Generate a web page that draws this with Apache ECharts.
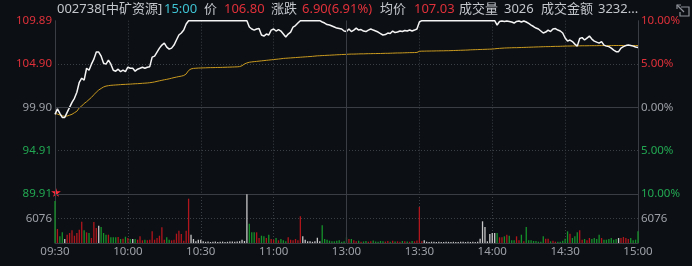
<!DOCTYPE html>
<html><head><meta charset="utf-8">
<script src="https://cdn.jsdelivr.net/npm/echarts@6/dist/echarts.min.js"></script>
<style>html,body{margin:0;padding:0;background:#0c0f14;}#c{width:692px;height:266px;}</style>
</head><body><div id="c"></div>
<script>
// ---------- data ----------
const stockName = '002738[中矿资源]';
const prevClose = 99.90;
const limitUp = 109.89;
const limitDown = 89.91;
const priceTickLabels = ['89.91', '94.91', '99.90', '104.90', '109.89'];
const pctTickLabels = ['10.00%', '5.00%', '0.00%', '5.00%', '10.00%'];
const timeLabels = ['09:30', '10:00', '10:30', '11:00', '13:00', '13:30', '14:00', '14:30', '15:00'];
const volTick = 6076;
const volText = '3026';
const amountText = '3232...';

const price = [
  99.09, 99.73, 99.21, 98.74, 98.74, 99.32, 99.90, 100.48, 100.94, 101.64,
  102.79, 103.26, 103.03, 104.41, 104.18, 104.88, 105.46, 106.27, 106.27, 105.80,
  104.99, 104.88, 105.34, 104.88, 104.18, 104.07, 104.30, 104.01, 104.18, 104.01,
  104.53, 104.41, 104.41, 104.07, 104.30, 104.41, 104.53, 104.41, 104.53, 104.59,
  105.69, 105.80, 106.27, 106.73, 107.08, 107.31, 106.85, 106.61, 106.73, 107.08,
  107.66, 108.24, 108.47, 108.81, 109.51, 109.89, 109.89, 109.89, 109.89, 109.89,
  109.89, 109.89, 109.89, 109.89, 109.89, 109.89, 109.89, 109.89, 109.89, 109.89,
  109.89, 109.89, 109.89, 109.89, 109.89, 109.89, 109.89, 109.89, 109.89, 109.89,
  109.16, 108.93, 108.81, 108.93, 108.99, 108.24, 108.12, 108.35, 108.24, 108.81,
  108.93, 108.70, 108.87, 108.70, 108.35, 108.00, 108.35, 108.58, 109.16, 109.33,
  109.62, 109.89, 109.89, 109.89, 109.89, 109.89, 109.89, 109.89, 109.89, 109.89,
  109.74, 109.62, 109.45, 109.39, 109.28, 109.16, 109.04, 108.99, 108.93, 108.70,
  108.64, 108.93, 108.64, 108.81, 109.04, 108.81, 108.87, 108.70, 108.64, 108.81,
  108.93, 108.81, 108.70, 108.58, 108.41, 108.24, 108.29, 108.47, 108.41, 108.70,
  108.52, 108.58, 108.70, 108.64, 108.76, 108.70, 108.81, 108.70, 108.81, 108.93,
  109.74, 109.89, 109.89, 109.89, 109.89, 109.89, 109.89, 109.89, 109.89, 109.89,
  109.89, 109.89, 109.89, 109.89, 109.89, 109.89, 109.89, 109.89, 109.89, 109.89,
  109.89, 109.89, 109.89, 109.89, 109.89, 109.89, 109.89, 109.89, 109.89, 109.89,
  109.89, 109.89, 109.39, 109.80, 109.86, 109.80, 109.86, 109.80, 109.74, 109.62,
  109.80, 109.86, 109.74, 109.86, 109.74, 109.57, 109.39, 109.22, 109.04, 108.93,
  108.70, 108.47, 108.58, 108.81, 108.64, 108.93, 108.99, 108.81, 108.70, 108.47,
  107.89, 107.54, 107.66, 107.48, 107.19, 106.96, 107.83, 107.94, 107.66, 107.89,
  108.12, 107.77, 107.54, 107.42, 107.31, 107.48, 107.08, 106.96, 106.90, 106.73,
  106.50, 106.32, 106.32, 106.73, 106.90, 107.02, 107.08, 107.02, 106.96, 106.85,
  106.80
];

const avgPrice = [
  99.20, 99.12, 99.02, 98.93, 98.87, 98.90, 99.00, 99.10, 99.28, 99.45,
  99.85, 100.05, 100.35, 100.55, 100.80, 101.05, 101.35, 101.65, 101.90, 102.08,
  102.25, 102.35, 102.40, 102.44, 102.46, 102.48, 102.50, 102.52, 102.54, 102.55,
  102.57, 102.58, 102.60, 102.62, 102.63, 102.65, 102.67, 102.69, 102.71, 102.74,
  102.78, 102.83, 102.90, 102.96, 103.02, 103.08, 103.13, 103.19, 103.26, 103.33,
  103.39, 103.45, 103.50, 103.57, 103.75, 104.15, 104.33, 104.39, 104.41, 104.43,
  104.44, 104.45, 104.46, 104.47, 104.48, 104.48, 104.49, 104.50, 104.50, 104.51,
  104.52, 104.53, 104.54, 104.55, 104.56, 104.57, 104.60, 104.70, 104.90, 105.02,
  105.10, 105.14, 105.17, 105.20, 105.23, 105.26, 105.29, 105.32, 105.35, 105.38,
  105.41, 105.44, 105.47, 105.50, 105.54, 105.56, 105.58, 105.60, 105.62, 105.64,
  105.66, 105.68, 105.70, 105.72, 105.74, 105.76, 105.78, 105.81, 105.84, 105.85,
  105.87, 105.88, 105.90, 105.91, 105.93, 105.94, 105.96, 105.97, 105.99, 106.00,
  106.01, 106.03, 106.04, 106.04, 106.05, 106.06, 106.07, 106.07, 106.08, 106.09,
  106.09, 106.10, 106.10, 106.11, 106.11, 106.12, 106.13, 106.13, 106.14, 106.15,
  106.16, 106.17, 106.17, 106.18, 106.19, 106.20, 106.21, 106.21, 106.22, 106.23,
  106.36, 106.38, 106.38, 106.39, 106.39, 106.40, 106.40, 106.41, 106.41, 106.42,
  106.42, 106.43, 106.43, 106.44, 106.45, 106.46, 106.47, 106.48, 106.49, 106.50,
  106.51, 106.53, 106.54, 106.55, 106.56, 106.57, 106.58, 106.59, 106.60, 106.61,
  106.62, 106.65, 106.68, 106.70, 106.72, 106.74, 106.75, 106.76, 106.77, 106.78,
  106.78, 106.79, 106.80, 106.81, 106.82, 106.83, 106.84, 106.85, 106.86, 106.87,
  106.88, 106.89, 106.90, 106.90, 106.91, 106.92, 106.93, 106.93, 106.94, 106.95,
  106.96, 106.97, 106.97, 106.98, 106.98, 106.99, 106.99, 107.00, 107.00, 107.00,
  107.01, 107.01, 107.01, 107.01, 107.02, 107.02, 107.02, 107.02, 107.02, 107.02,
  107.03, 107.03, 107.03, 107.03, 107.03, 107.03, 107.03, 107.03, 107.03, 107.03,
  107.03
];

const volume = [
  10420, 3470, 1660, 2650, 990, 2060, 2480, 3150, 1810, 2480,
  3300, 5280, 3150, 2650, 2480, 1240, 5210, 3720, 4290, 3970,
  2480, 2060, 2060, 1410, 1410, 1410, 1490, 990, 1070, 1560,
  1240, 990, 990, 990, 820, 1660, 670, 820, 670, 820,
  2900, 820, 1240, 1810, 3890, 820, 1410, 820, 670, 820,
  2310, 3050, 2230, 570, 3050, 10990, 2060, 990, 420, 820,
  820, 420, 300, 350, 250, 300, 400, 250, 300, 350,
  250, 300, 400, 350, 300, 400, 450, 820, 500, 12100,
  4790, 2650, 2650, 2650, 1240, 1810, 1660, 1240, 2060, 990,
  820, 1240, 670, 990, 670, 420, 1410, 820, 670, 990,
  670, 6620, 1660, 820, 420, 420, 300, 420, 1300, 420,
  4390, 990, 820, 570, 420, 420, 570, 670, 300, 420,
  1410, 990, 990, 670, 450, 570, 300, 380, 520, 330,
  450, 600, 380, 300, 500, 420, 350, 470, 300, 550,
  380, 420, 330, 500, 450, 380, 300, 520, 420, 600,
  8930, 420, 670, 300, 250, 320, 280, 250, 300, 260,
  250, 330, 280, 250, 300, 270, 250, 310, 280, 250,
  300, 260, 280, 250, 300, 1070, 5380, 3970, 420, 2230,
  2480, 2480, 2480, 1410, 1410, 1660, 2060, 1810, 670, 670,
  1660, 670, 2060, 420, 3970, 670, 670, 500, 500, 330,
  330, 1660, 1070, 1070, 420, 570, 330, 330, 330, 570,
  1070, 2900, 2310, 1240, 1660, 2650, 3150, 820, 990, 670,
  1240, 990, 1240, 990, 2060, 1240, 820, 820, 990, 1240,
  820, 990, 1240, 1240, 1490, 1240, 990, 1240, 670, 820,
  2900
];

// ---------- styling ----------
const FONT = '"Noto Sans", "Noto Sans CJK SC", sans-serif';
const BG = '#0c0f14';
const RED = '#e0313a';
const GREEN = '#22a852';
const GRAY = '#9da1a7';
const LIGHT = '#c3c7cc';
const CYAN = '#3fc3d3';
const SOLID = '#3a3d43';
const DOTC = '#3a3e45';
const DOT = [1, 2];
const BAR_RED = '#b0161c';
const BAR_GREEN = '#16922b';
const BAR_FLAT = '#c8c8c8';
const T = 'rgba(0,0,0,0)';

const cls = v => v > 0 ? 'r' : (v < 0 ? 'g' : 'n');
const rich = { r: { color: RED, fontSize: 11.5, fontFamily: FONT }, g: { color: GREEN, fontSize: 11.5, fontFamily: FONT }, n: { color: GRAY, fontSize: 11.5, fontFamily: FONT } };

const n = price.length;
const lastPrice = price[n - 1];
const chg = lastPrice - prevClose;
const pct = chg / prevClose * 100;
const lastAvg = avgPrice[avgPrice.length - 1];

const priceData = price.map((v, i) => [i, v]);
const avgData = avgPrice.map((v, i) => [i, v]);
const volData = volume.map((v, i) => {
  const ref = i === 0 ? prevClose : price[i - 1];
  const c = price[i] > ref ? BAR_RED : (price[i] < ref ? BAR_GREEN : BAR_FLAT);
  return { value: [i, v], itemStyle: { color: c } };
});

const headerParts = [
  { t: stockName, c: LIGHT, x: 57 },
  { t: timeLabels[timeLabels.length - 1], c: CYAN, x: 164 },
  { t: '价', c: LIGHT, x: 204 },
  { t: lastPrice.toFixed(2), c: RED, x: 224 },
  { t: '涨跌', c: LIGHT, x: 271 },
  { t: chg.toFixed(2) + '(' + pct.toFixed(2) + '%)', c: RED, x: 302 },
  { t: '均价', c: LIGHT, x: 380 },
  { t: lastAvg.toFixed(2), c: RED, x: 414 },
  { t: '成交量', c: LIGHT, x: 459 },
  { t: volText, c: LIGHT, x: 504 },
  { t: '成交金额', c: LIGHT, x: 541 },
  { t: amountText, c: LIGHT, x: 598 }
];

const graphics = headerParts.map(p => ({
  type: 'text', left: p.x, top: 3, silent: true,
  style: { text: p.t, fill: p.c, font: '13px ' + FONT }
}));
graphics.push({
  type: 'text', left: 51, top: 188, silent: true,
  style: { text: '★', fill: '#ff2a3a', font: '10px ' + FONT }
});
graphics.push({
  type: 'polyline', silent: true,
  shape: { points: [[681, 7], [689, 7], [689, 16], [680, 16], [680, 12]] },
  style: { stroke: '#8d9197', lineWidth: 1.2, fill: null }
});
graphics.push({
  type: 'polyline', silent: true,
  shape: { points: [[684, 12], [677, 5]] },
  style: { stroke: '#8d9197', lineWidth: 1.2, fill: null }
});
graphics.push({
  type: 'polyline', silent: true,
  shape: { points: [[677, 9], [677, 5], [681, 5]] },
  style: { stroke: '#8d9197', lineWidth: 1.2, fill: null }
});

const xBase = (gi, showLabel) => ({
  gridIndex: gi, type: 'value', min: 0, max: 240, interval: 30,
  axisLine: { show: true, onZero: false, lineStyle: { color: SOLID, width: 1 } },
  axisTick: { show: false },
  axisLabel: showLabel ? {
    show: true, color: GRAY, fontSize: 11.5, fontFamily: FONT, margin: 3,
    showMinLabel: true, showMaxLabel: true,
    formatter: v => timeLabels[Math.round(v / 30)] || ''
  } : { show: false },
  splitLine: { show: true, lineStyle: { color: [T, DOTC, DOTC, DOTC, DOTC, DOTC, DOTC, DOTC, T], type: DOT } }
});

const option = {
  backgroundColor: BG,
  animation: false,
  textStyle: { fontFamily: FONT },
  graphic: graphics,
  grid: [
    { left: 55, right: 54, top: 20.7, height: 173.3 },
    { left: 55, right: 54, top: 194, height: 49 }
  ],
  xAxis: [xBase(0, false), xBase(1, true)],
  yAxis: [
    {
      gridIndex: 0, type: 'value', min: -10, max: 10, interval: 5, position: 'left',
      axisLine: { show: true, onZero: false, lineStyle: { color: SOLID } },
      axisTick: { show: false },
      axisLabel: {
        margin: 3, showMinLabel: true, showMaxLabel: true, rich: rich,
        formatter: v => '{' + cls(v) + '|' + priceTickLabels[Math.round((v + 10) / 5)] + '}'
      },
      splitLine: { show: true, lineStyle: { color: [T, DOTC, T, DOTC, T], type: DOT } }
    },
    {
      gridIndex: 0, type: 'value', min: -10, max: 10, interval: 5, position: 'right',
      axisLine: { show: true, onZero: false, lineStyle: { color: SOLID } },
      axisTick: { show: false },
      axisLabel: {
        margin: 3, showMinLabel: true, showMaxLabel: true, rich: rich,
        formatter: v => '{' + cls(v) + '|' + pctTickLabels[Math.round((v + 10) / 5)] + '}'
      },
      splitLine: { show: false }
    },
    { gridIndex: 0, type: 'value', min: limitDown, max: limitUp, show: false },
    {
      gridIndex: 1, type: 'value', min: 0, max: volTick * 2, interval: volTick, position: 'left',
      axisLine: { show: true, onZero: false, lineStyle: { color: SOLID } },
      axisTick: { show: false },
      axisLabel: {
        margin: 3, color: GRAY, fontSize: 11.5, fontFamily: FONT,
        formatter: v => v === volTick ? String(volTick) : ''
      },
      splitLine: { show: true, lineStyle: { color: [T, DOTC, T], type: DOT } }
    },
    {
      gridIndex: 1, type: 'value', min: 0, max: volTick * 2, interval: volTick, position: 'right',
      axisLine: { show: true, onZero: false, lineStyle: { color: SOLID } },
      axisTick: { show: false },
      axisLabel: {
        margin: 3, color: GRAY, fontSize: 11.5, fontFamily: FONT,
        formatter: v => v === volTick ? String(volTick) : ''
      },
      splitLine: { show: false }
    }
  ],
  series: [
    {
      type: 'line', xAxisIndex: 0, yAxisIndex: 2, data: avgData,
      showSymbol: false, symbol: 'none', silent: true, z: 3,
      lineStyle: { color: '#c99a1f', width: 1 }
    },
    {
      type: 'line', xAxisIndex: 0, yAxisIndex: 2, data: priceData,
      showSymbol: false, symbol: 'none', silent: true, z: 4,
      lineStyle: { color: '#f4f4f4', width: 1.5 },
      markLine: {
        silent: true, symbol: 'none', label: { show: false },
        lineStyle: { color: SOLID, type: 'solid', width: 1 },
        data: [{ yAxis: prevClose }, { xAxis: 120 }]
      }
    },
    {
      type: 'bar', xAxisIndex: 1, yAxisIndex: 3, data: volData,
      barWidth: 1.3, silent: true,
      markLine: {
        silent: true, symbol: 'none', label: { show: false },
        lineStyle: { color: SOLID, type: 'solid', width: 1 },
        data: [{ xAxis: 120 }]
      }
    }
  ]
};

const chart = echarts.init(document.getElementById('c'), null, { renderer: 'canvas' });
chart.setOption(option);
</script>
</body></html>
